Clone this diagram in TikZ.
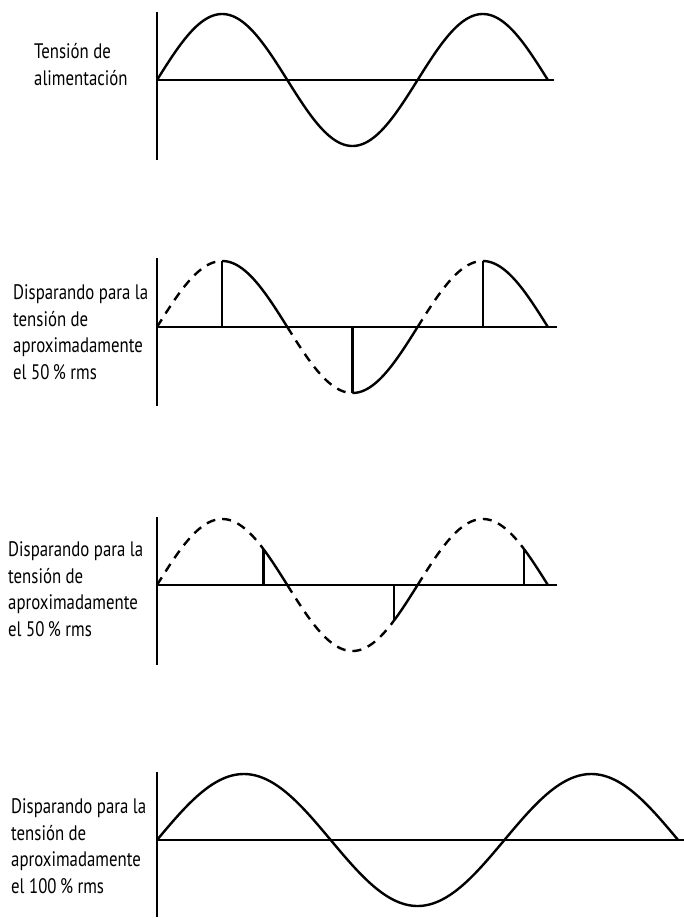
\documentclass[tikz,border=0pt]{standalone}
\usepackage{fontspec}
\setmainfont{PT Sans}[FakeStretch=0.80]
\begin{document}
\begin{tikzpicture}[x=1pt,y=-1pt,
  wave/.style={line width=2.4pt,line cap=butt,line join=round},
  dwave/.style={wave,dash pattern=on 9pt off 7pt},
  axis/.style={line width=2.3pt},
  lbl/.style={anchor=base west,inner sep=0pt,align=left,font=\fontsize{21}{26.4}\selectfont}]
\useasboundingbox (0,0) rectangle (684,918);
% ---------- panel 1
\node[lbl] (l1) at (34,85) {Tensión de\\alimentación};
\draw[axis] (157,12) -- (157,160);
\draw[axis] (157,80) -- (554,80);
\draw[wave] plot[domain=0:540,samples=181] ({157+\x/180*130.3},{80-66*sin(\x)});
% ---------- panel 2
\node[lbl] (l2) at (13,379) {Disparando para la\\tensión de\\aproximadamente\\el 50\,\% rms};
\draw[axis] (157,258) -- (157,406);
\draw[axis] (157,327) -- (557,327);
\foreach \a/\b in {0/90,180/270,360/450}
  \draw[dwave] plot[domain=\a:\b,samples=60] ({157+\x/180*130.3},{327-66*sin(\x)});
\foreach \a/\b in {90/180,270/360,450/540}
  \draw[wave] plot[domain=\a:\b,samples=60] ({157+\x/180*130.3},{327-66*sin(\x)});
\foreach \a in {90,270,450}
  \draw[axis] ({157+\a/180*130.3},327) -- ({157+\a/180*130.3},{327-66*sin(\a)});
% ---------- panel 3
\node[lbl] (l3) at (8,636) {Disparando para la\\tensión de\\aproximadamente\\el 50\,\% rms};
\draw[axis] (157,517) -- (157,665);
\draw[axis] (157,585) -- (557,585);
\foreach \a/\b in {0/147,180/327,360/507}
  \draw[dwave] plot[domain=\a:\b,samples=80] ({157+\x/180*130.3},{585-66*sin(\x)});
\foreach \a/\b in {147/180,327/360,507/540}
  \draw[wave] plot[domain=\a:\b,samples=30] ({157+\x/180*130.3},{585-66*sin(\x)});
\foreach \a in {147,327,507}
  \draw[axis] ({157+\a/180*130.3},585) -- ({157+\a/180*130.3},{585-66*sin(\a)});
% ---------- panel 4
\node[lbl] (l4) at (11,893) {Disparando para la\\tensión de\\aproximadamente\\el 100\,\% rms};
\draw[axis] (157,772) -- (157,917);
\draw[axis] (157,840) -- (684,840);
\draw[wave] plot[domain=0:540,samples=181] ({157+\x/180*173.7},{840-66*sin(\x)});
\end{tikzpicture}
\end{document}
